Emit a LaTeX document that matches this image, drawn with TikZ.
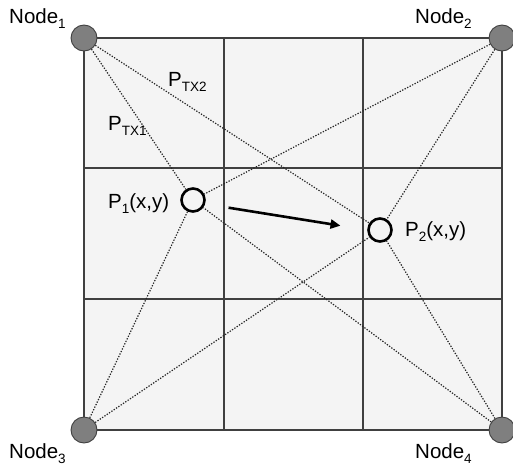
\documentclass[tikz,border=0pt]{standalone}
\usepackage{fontspec}
\setmainfont{Liberation Sans}
\usetikzlibrary{arrows.meta}
\definecolor{gridgray}{HTML}{404040}
\definecolor{cellgray}{HTML}{F4F4F4}
\definecolor{nodegray}{HTML}{7F7F7F}
\newcommand{\lowsub}[1]{\raisebox{-5pt}{\fontsize{13.5}{14}\selectfont #1}}

\begin{document}
\begin{tikzpicture}[
        x=1pt, y=-1pt,
        every node/.style={font=\fontsize{20.5}{24}\selectfont},
        txt/.style={anchor=base west, inner sep=0pt},
        corner/.style={
          circle,
          draw=gridgray,
          fill=nodegray,
          minimum size=26pt,
          inner sep=0pt,
          line width=0.9pt
        },
        spot/.style={
          circle,
          draw=black,
          fill=cellgray,
          line width=2.6pt,
          minimum size=23pt,
          inner sep=0pt
        },
        link/.style={black!85, line width=1.2pt, dash pattern=on 1.3pt off 1.5pt},
        move/.style={
          -{Triangle[length=10pt,width=9pt]},
          line width=2.6pt
        }
      ]

      \useasboundingbox (0,0) rectangle (513,466);

      % grid of cells
      \fill[cellgray] (84,38) rectangle (502,430);
      \draw[gridgray, line width=1.2pt] (84,38) rectangle (502,430);
      \foreach \x in {224,363}
        \draw[gridgray, line width=1.2pt] (\x,38) -- (\x,430);
      \foreach \y in {168,299}
        \draw[gridgray, line width=1.2pt] (84,\y) -- (502,\y);

      % anchor nodes and positions
      \node[corner] (n1) at (84,38) {};
      \node[corner] (n2) at (502,38) {};
      \node[corner] (n3) at (84,430) {};
      \node[corner] (n4) at (502,430) {};
      \node[spot] (p1) at (193,200) {};
      \node[spot] (p2) at (380,230) {};

      \foreach \n in {n1,n2,n3,n4} {
        \draw[link] (\n) -- (p1);
        \draw[link] (\n) -- (p2);
      }

      \draw[move, shorten <=36pt, shorten >=40pt] ([yshift=-2pt]p1.center) -- ([yshift=-2pt]p2.center);

      % labels
      \node[txt] (l1) at (9,23) {Node\lowsub{1}};
      \node[txt] (l2) at (415,23) {Node\lowsub{2}};
      \node[txt] (l3) at (9,458) {Node\lowsub{3}};
      \node[txt] (l4) at (415,458) {Node\lowsub{4}};
      \node[txt] (ltx2) at (168,86) {P\lowsub{TX2}};
      \node[txt] (ltx1) at (108,130) {P\lowsub{TX1}};
      \node[txt] (lp1) at (108,208) {P\lowsub{1}(x,y)};
      \node[txt] (lp2) at (405,236) {P\lowsub{2}(x,y)};

      \end{tikzpicture}
\end{document}
